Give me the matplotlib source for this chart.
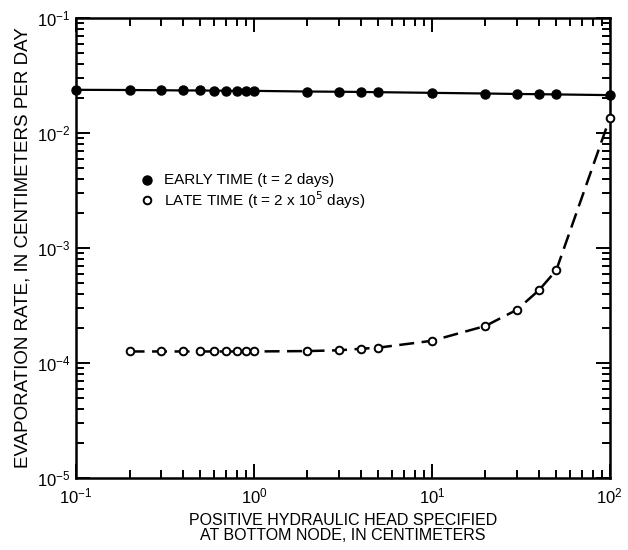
import matplotlib
matplotlib.use("Agg")
import matplotlib.pyplot as plt
from matplotlib.ticker import LogLocator, NullFormatter

plt.rcParams['font.family'] = ['Liberation Sans', 'DejaVu Sans']

# Data
early_x = [0.1, 0.2, 0.3, 0.4, 0.5, 0.6, 0.7, 0.8, 0.9, 1.0, 2, 3, 4, 5, 10, 20, 30, 40, 50, 100]
early_y = [0.0238, 0.0237, 0.0236, 0.0235, 0.0235, 0.0234, 0.0234, 0.0233, 0.0233, 0.0233,
           0.0230, 0.0229, 0.0228, 0.0227, 0.0224, 0.0221, 0.0219, 0.0218, 0.0217, 0.0214]
late_x = [0.2, 0.3, 0.4, 0.5, 0.6, 0.7, 0.8, 0.9, 1.0, 2, 3, 4, 5, 10, 20, 30, 40, 50, 100]
late_y = [1.26e-4, 1.26e-4, 1.26e-4, 1.26e-4, 1.26e-4, 1.26e-4, 1.26e-4, 1.26e-4, 1.26e-4,
          1.27e-4, 1.29e-4, 1.33e-4, 1.36e-4, 1.56e-4, 2.1e-4, 2.9e-4, 4.3e-4, 6.4e-4, 0.0135]

xlabel = "POSITIVE HYDRAULIC HEAD SPECIFIED\nAT BOTTOM NODE, IN CENTIMETERS"
ylabel = "EVAPORATION RATE, IN CENTIMETERS PER DAY"
legend_early = "EARLY TIME (t = 2 days)"
legend_late = r"LATE TIME (t = 2 x 10$^{5}$ days)"

fig = plt.figure(figsize=(6.28, 5.5), dpi=100)
ax = fig.add_axes([0.121, 0.131, 0.850, 0.836])

ax.plot(early_x, early_y, '-', color='black', lw=1.6, marker='o', ms=6.5,
        mfc='black', mec='black', clip_on=False, zorder=3)
ax.plot(late_x, late_y, color='black', lw=1.8, dashes=(6, 3), marker='o', ms=5.5,
        mfc='white', mec='black', mew=1.4, clip_on=False, zorder=3)

ax.set_xscale('log')
ax.set_yscale('log')
ax.set_xlim(0.1, 100)
ax.set_ylim(1e-5, 1e-1)

ax.xaxis.set_major_locator(LogLocator(base=10, numticks=10))
ax.yaxis.set_major_locator(LogLocator(base=10, numticks=10))
ax.xaxis.set_minor_locator(LogLocator(base=10, subs=range(2, 10), numticks=20))
ax.yaxis.set_minor_locator(LogLocator(base=10, subs=range(2, 10), numticks=20))
ax.xaxis.set_minor_formatter(NullFormatter())
ax.yaxis.set_minor_formatter(NullFormatter())

ax.tick_params(which='both', direction='in', top=True, right=True, width=1.4, labelsize=12)
ax.tick_params(which='major', length=10)
ax.tick_params(which='minor', length=6)
ax.tick_params(axis='x', which='major', pad=6)
ax.tick_params(axis='y', which='major', pad=4)
for s in ax.spines.values():
    s.set_linewidth(1.8)

ax.set_xlabel(xlabel, fontsize=11.5, linespacing=0.95, labelpad=5)
ax.set_ylabel(ylabel, fontsize=13.5, labelpad=4)

# legend (manual)
ax.plot([0.133], [0.648], 'o', color='black', ms=6.5, transform=ax.transAxes)
ax.plot([0.133], [0.604], 'o', mfc='white', mec='black', mew=1.4, ms=5.5, transform=ax.transAxes)
ax.text(0.165, 0.648, legend_early, transform=ax.transAxes, fontsize=11, va='center')
ax.text(0.165, 0.604, legend_late, transform=ax.transAxes, fontsize=11, va='center')

fig.savefig("out.png", dpi=100)
